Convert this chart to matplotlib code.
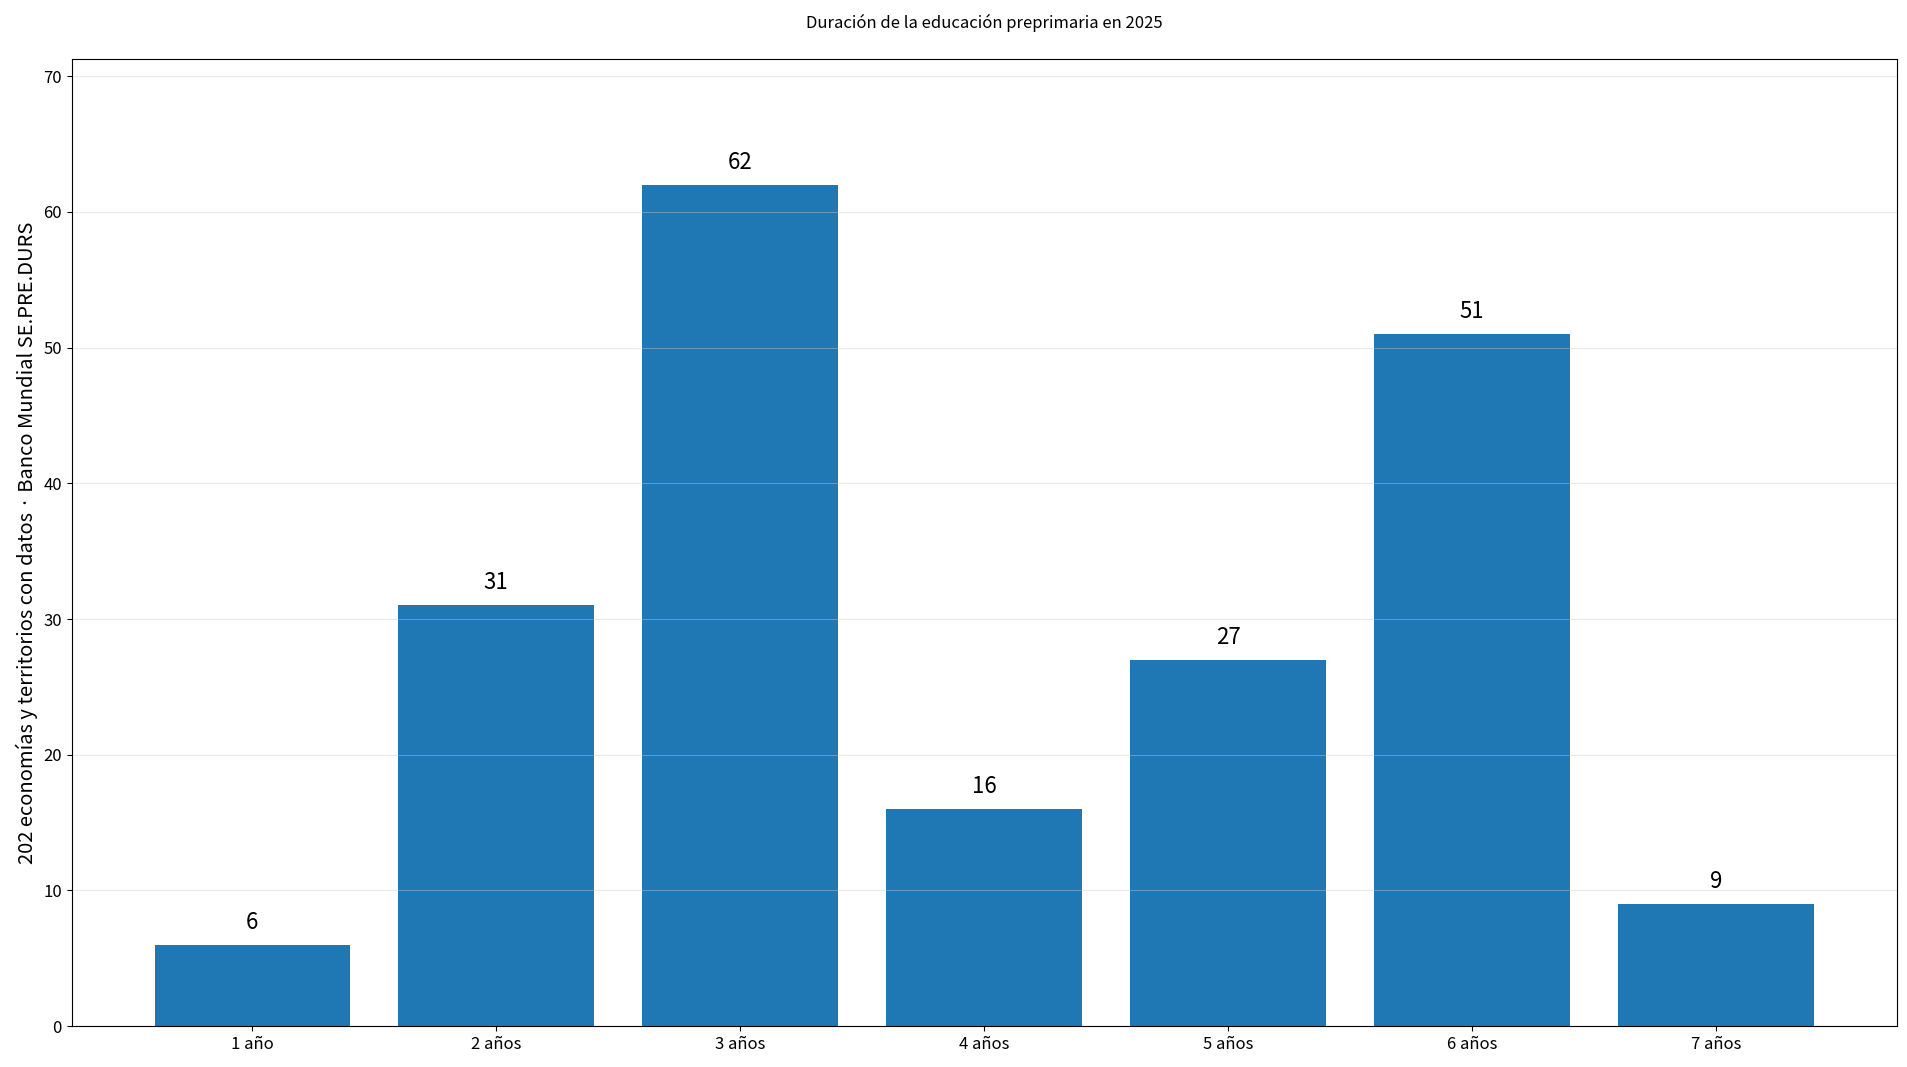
import numpy as np
import matplotlib
matplotlib.use("Agg")
import matplotlib.pyplot as plt

plt.rcParams['font.family'] = ['Noto Sans CJK JP', 'DejaVu Sans']

# Datos: duración de la educación preprimaria (número de economías)
categorias = ["1 año", "2 años", "3 años", "4 años", "5 años", "6 años", "7 años"]
valores = [6, 31, 62, 16, 27, 51, 9]

fig = plt.figure(figsize=(19.08, 10.67), dpi=100)
ax = fig.add_axes([0.0375, 0.0384, 0.9565, 0.9066])

x = np.arange(len(categorias))
ax.bar(x, valores, width=0.8, color="#1f77b4")

for xi, v in zip(x, valores):
    ax.annotate(str(v), (xi, v), xytext=(0, 8), textcoords="offset points",
                ha="center", va="bottom", fontsize=16)

ax.set_xticks(x)
ax.set_xticklabels(categorias, fontsize=12)
ax.tick_params(axis="y", labelsize=12)
ax.set_ylim(0, max(valores) * 1.15)
ax.grid(axis="y", color="#cccccc", alpha=0.4, linewidth=0.8)
ax.set_ylabel("202 economías y territorios con datos · Banco Mundial SE.PRE.DURS", fontsize=14.5)
ax.set_title("Duración de la educación preprimaria en 2025", fontsize=12, pad=22)

fig.savefig("out.png", dpi=100)
